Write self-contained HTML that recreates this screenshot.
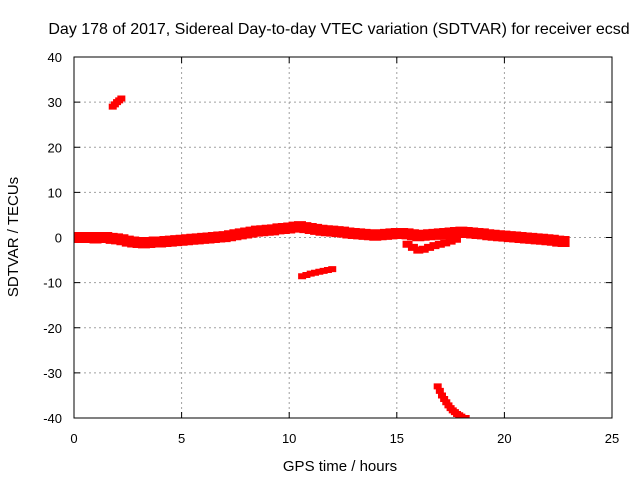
<!DOCTYPE html>
<html><head><meta charset="utf-8"><style>
body{margin:0;background:#fff}
svg text{font-family:"Liberation Sans",sans-serif;fill:#000}
</style></head><body>
<svg width="640" height="480" xmlns="http://www.w3.org/2000/svg">
<defs><clipPath id="plotclip"><rect x="74" y="57" width="538" height="361"/></clipPath></defs>
<rect width="640" height="480" fill="#fff"/>
<text x="339" y="34" font-size="16" text-anchor="middle">Day 178 of 2017, Sidereal Day-to-day VTEC variation (SDTVAR) for receiver ecsd</text>
<g id="grid"></g>
<g id="axes"></g>
<g id="marks" clip-path="url(#plotclip)"></g>
<rect x="74" y="57" width="538" height="361" fill="none" stroke="#000" stroke-width="1"/>
<text x="340" y="471" font-size="15" text-anchor="middle">GPS time / hours</text>
<text transform="translate(18,237) rotate(-90)" font-size="15" text-anchor="middle">SDTVAR / TECUs</text>
</svg>
<script>
const xTicks=[0,5,10,15,20,25];
const yTicks=[40,30,20,10,0,-10,-20,-30,-40];
const mainStart=0, mainStep=0.25;
const mainValues=[0,0,0,0,-0.1,0,0,-0.2,-0.3,
-0.5,-0.8,-1,-1.1,-1.2,-1.1,-1,-1,-0.9,-0.8,-0.7,-0.6,
-0.5,-0.4,-0.3,-0.2,-0.1,0,0.1,0.2,
0.4,0.6,0.8,1,1.2,1.4,1.5,1.6,1.7,1.9,2,2.1,2.3,2.4,
2.2,2,1.8,1.6,1.5,1.4,1.3,1.2,1,0.9,0.8,0.7,0.6,
0.5,0.6,0.7,0.8,0.9,0.9,0.8,0.6,0.4,
0.5,0.6,0.7,0.8,0.9,1,1.1,1.2,1.1,
1,0.9,0.8,0.6,0.5,0.4,0.3,0.2,0.1,0,-0.1,-0.2,-0.3,-0.4,-0.5,-0.6,-0.8,-0.9];
const branchStart=15.5, branchStep=0.25;
const branchValues=[-1.5,-2.2,-2.8,-2.6,-2.2,-1.8,-1.5,-1.2,-0.8,-0.4];
const seg1Start=1.8, seg1Step=0.1;
const seg1Values=[29,29.5,30,30.4,30.8];
const seg2Start=10.6, seg2Step=0.2;
const seg2Values=[-8.6,-8.3,-8,-7.8,-7.6,-7.4,-7.2,-7];
const seg3Start=16.9, seg3Step=0.1;
const seg3Values=[-33,-34,-35,-35.8,-36.5,-37.2,-37.8,-38.3,-38.7,-39.1,-39.4,-39.7,-40,-40];

const NS="http://www.w3.org/2000/svg";
const X0=74,X1=612,Y0=418,Y1=57;
const xs=v=>X0+(v-0)/25*(X1-X0);
const ys=v=>Y0-(v+40)/80*(Y0-Y1);
function mk(tag,attrs,parent){const e=document.createElementNS(NS,tag);for(const k in attrs)e.setAttribute(k,attrs[k]);parent.appendChild(e);return e;}
const grid=document.getElementById('grid'),axes=document.getElementById('axes'),marks=document.getElementById('marks');
xTicks.forEach(t=>{
  const x=xs(t);
  if(t>0&&t<25){const l=mk('line',{x1:x,x2:x,y1:Y1,y2:Y0,stroke:'#a0a0a0','stroke-dasharray':'2,3'},grid);
  
  }
  mk('line',{x1:x,x2:x,y1:Y0,y2:Y0-6,stroke:'#000'},axes);
  mk('line',{x1:x,x2:x,y1:Y1,y2:Y1+6,stroke:'#000'},axes);
  const tx=mk('text',{x:x,y:443,'font-size':13,'text-anchor':'middle'},axes);tx.textContent=t;
  
  
});
yTicks.forEach(t=>{
  const y=ys(t);
  if(t>-40&&t<40){const l=mk('line',{x1:X0,x2:X1,y1:y,y2:y,stroke:'#a0a0a0','stroke-dasharray':'2,3'},grid);
  
  }
  mk('line',{x1:X0,x2:X0+6,y1:y,y2:y,stroke:'#000'},axes);
  mk('line',{x1:X1,x2:X1-6,y1:y,y2:y,stroke:'#000'},axes);
  const tx=mk('text',{x:62,y:y+5,'font-size':13,'text-anchor':'end'},axes);tx.textContent=t;
  
  
});
function series(start,step,vals,name,sz,th){
  const g=mk('g',{},marks);
  
  
  let d='';
  vals.forEach((v,i)=>{const x=xs(start+i*step),y=ys(v);
    d+=`M${x-sz},${y-th}H${x+sz}V${y+th}H${x-sz}Z`;});
  mk('path',{d:d,fill:'#ff0000'},g);
}
series(mainStart,mainStep,mainValues,'main-series',6,5.5);
series(branchStart,branchStep,branchValues,'branch-series',5,3.5);
series(seg1Start,seg1Step,seg1Values,'segment-high',4,3);
series(seg2Start,seg2Step,seg2Values,'segment-mid',4,3);
series(seg3Start,seg3Step,seg3Values,'segment-low',4,3);
</script>
</body></html>
